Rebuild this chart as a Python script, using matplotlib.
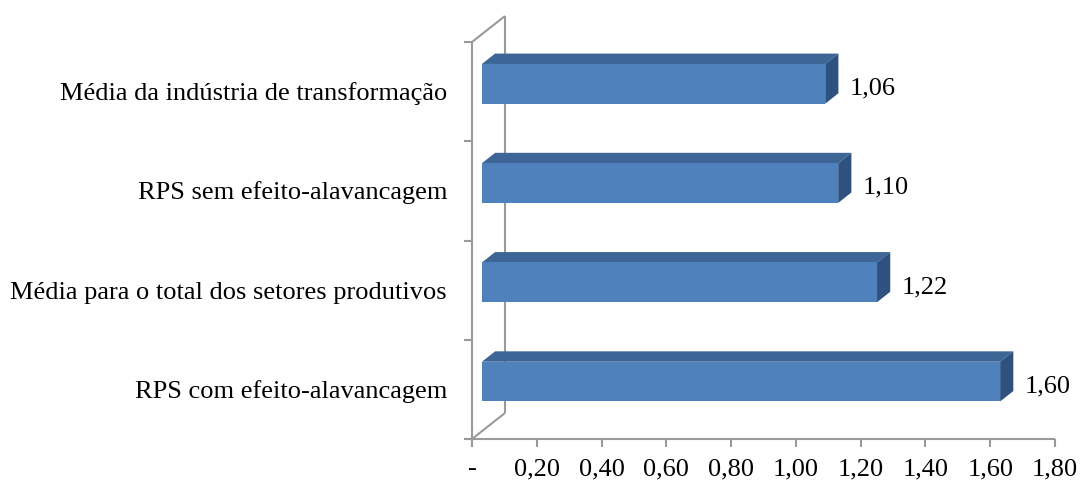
import matplotlib
matplotlib.use("Agg")
import matplotlib.pyplot as plt
from matplotlib.patches import Polygon
from matplotlib.transforms import offset_copy

# Data (bottom to top)
categories = [
    "RPS com efeito-alavancagem",
    "Média para o total dos setores produtivos",
    "RPS sem efeito-alavancagem",
    "Média da indústria de transformação",
]
values = [1.60, 1.22, 1.10, 1.06]
value_labels = ["1,60", "1,22", "1,10", "1,06"]
x_ticks = [0.0, 0.2, 0.4, 0.6, 0.8, 1.0, 1.2, 1.4, 1.6, 1.8]
x_tick_labels = ["-", "0,20", "0,40", "0,60", "0,80", "1,00", "1,20", "1,40", "1,60", "1,80"]

W, H, DPI = 1081, 481, 100
fig = plt.figure(figsize=(W / DPI, H / DPI), dpi=DPI)
plt.rcParams["font.family"] = ["Liberation Serif", "DejaVu Serif"]
FS = 19

# front plane of the plot area in pixels
left_px, right_px, top_px, bottom_px = 472, 1055, 43, 440
ax = fig.add_axes([left_px / W, (H - bottom_px) / H,
                   (right_px - left_px) / W, (bottom_px - top_px) / H])
xmin, xmax = 0.0, 1.8
ymin, ymax = -0.5, len(categories) - 0.5
ax.set_xlim(xmin, xmax)
ax.set_ylim(ymin, ymax)
ax.axis("off")

# depth direction (pixels -> data units)
px_x = (right_px - left_px) / (xmax - xmin)
px_y = (bottom_px - top_px) / (ymax - ymin)
DX = 33 / px_x
DY = 26 / px_y

grey = "#9a9a9a"
lw = 1.5

def line(xs, ys, z=1):
    ax.plot(xs, ys, color=grey, lw=lw, clip_on=False, zorder=z,
            solid_capstyle="butt")

# walls / axes frame
line([DX, DX], [ymin + DY, ymax + DY], z=1)
line([0, DX], [ymax, ymax + DY], z=1)
line([0, DX], [ymin, ymin + DY], z=1)
line([0, 0], [ymin, ymax], z=1)
tick_x = 8 / px_x
tick_y = 8 / px_y
line([-tick_x, xmax], [ymin, ymin], z=1)
for k in range(len(categories) + 1):
    yy = ymin + k
    line([-tick_x, 0], [yy, yy], z=1)
for t in x_ticks:
    line([t, t], [ymin, ymin - tick_y], z=1)

# 3D bars
front_col = "#4f81bd"
top_col = "#3d6596"
side_col = "#2f5180"
d0, d1 = 0.3, 0.7
half = 0.2
for i, v in enumerate(values):
    y0, y1 = i - half, i + half
    fx0, fx1 = d0 * DX, v + d0 * DX
    bx0, bx1 = d1 * DX, v + d1 * DX
    fy0, fy1 = y0 + d0 * DY, y1 + d0 * DY
    by0, by1 = y0 + d1 * DY, y1 + d1 * DY
    top = Polygon([(fx0, fy1), (fx1, fy1), (bx1, by1), (bx0, by1)],
                  closed=True, facecolor=top_col, edgecolor="none",
                  zorder=3, clip_on=False)
    side = Polygon([(fx1, fy0), (bx1, by0), (bx1, by1), (fx1, fy1)],
                   closed=True, facecolor=side_col, edgecolor="none",
                   zorder=3, clip_on=False)
    front = Polygon([(fx0, fy0), (fx1, fy0), (fx1, fy1), (fx0, fy1)],
                    closed=True, facecolor=front_col, edgecolor="none",
                    zorder=4, clip_on=False)
    for p in (top, side, front):
        ax.add_patch(p)
    # value label beside the bar end
    tr = offset_copy(ax.transData, fig=fig, x=11, y=-15, units="dots")
    ax.text(bx1, i + 0.5 * DY, value_labels[i], transform=tr,
            ha="left", va="baseline", fontsize=FS, color="black")

# category labels
tr_cat = offset_copy(ax.transData, fig=fig, x=-25, y=-7.5, units="dots")
for i, c in enumerate(categories):
    ax.text(0, i, c, transform=tr_cat, ha="right", va="baseline",
            fontsize=FS, color="black")

# value axis labels
tr_x = offset_copy(ax.transData, fig=fig, x=0, y=-35, units="dots")
for t, lab in zip(x_ticks, x_tick_labels):
    ax.text(t, ymin, lab, transform=tr_x, ha="center", va="baseline",
            fontsize=FS, color="black")

fig.savefig("out.png", dpi=DPI)
